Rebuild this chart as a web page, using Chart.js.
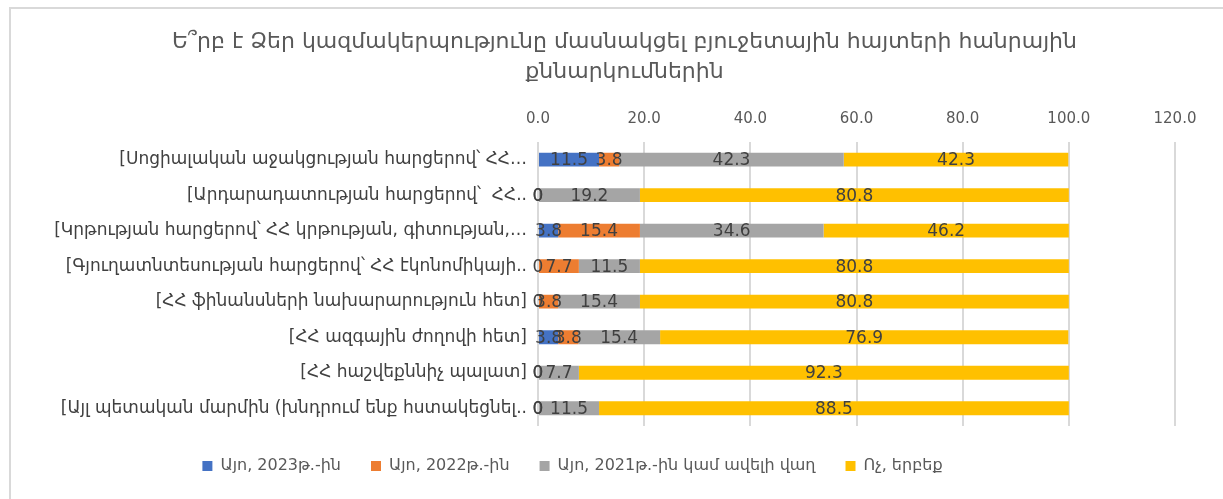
<!DOCTYPE html>
<html lang="hy">
<head>
<meta charset="UTF-8">
<title>Chart</title>
<script src="https://cdn.jsdelivr.net/npm/chart.js"></script>
<style>
  html, body { margin: 0; padding: 0; background: #fff; }
  #wrap { width: 1223px; height: 499px; }
</style>
</head>
<body>
<div id="wrap"><canvas id="myChart" width="1223" height="499"></canvas></div>

<script>
    // categories (labels are truncated in the original too)
    const categories = [
        '[Սոցիալական աջակցության հարցերով՝ ՀՀ…',
        '[Արդարադատության հարցերով՝  ՀՀ..',
        '[Կրթության հարցերով՝ ՀՀ կրթության, գիտության,…',
        '[Գյուղատնտեսության հարցերով՝ ՀՀ էկոնոմիկայի..',
        '[ՀՀ ֆինանսների նախարարություն հետ]',
        '[ՀՀ ազգային ժողովի հետ]',
        '[ՀՀ հաշվեքննիչ պալատ]',
        '[Այլ պետական մարմին (խնդրում ենք հստակեցնել..'
    ]

    const seriesNames = ['Այո, 2023թ.-ին', 'Այո, 2022թ.-ին', 'Այո, 2021թ.-ին կամ ավելի վաղ', 'Ոչ, երբեք']

    const yes2023 = [11.5, 0, 3.8, 0, 0, 3.8, 0, 0]
    const yes2022 = [3.8, 0, 15.4, 7.7, 3.8, 3.8, 0, 0]
    const yes2021 = [42.3, 19.2, 34.6, 11.5, 15.4, 15.4, 7.7, 11.5]
    const never = [42.3, 80.8, 46.2, 80.8, 80.8, 76.9, 92.3, 88.5]

    const xTicks = [0, 20, 40, 60, 80, 100, 120]

    const titleLines = [
        'Ե՞րբ է Ձեր կազմակերպությունը մասնակցել բյուջետային հայտերի հանրային',
        'քննարկումներին'
    ]

    const colors = ['#4472C4', '#ED7D31', '#A5A5A5', '#FFC000']
    const FONT = "'DejaVu Sans', 'Noto Sans', sans-serif"

    // frame around the chart + white background
    const framePlugin = {
        id: 'frame',
        beforeDraw(chart) {
            const c = chart.ctx
            c.save()
            c.fillStyle = '#fff'
            c.fillRect(0, 0, chart.width, chart.height)
            c.strokeStyle = '#d9d9d9'
            c.lineWidth = 2
            c.strokeRect(10, 8, chart.width - 9, chart.height)
            c.restore()
        }
    }

    // value labels centered inside each segment
    const valueLabels = {
        id: 'valueLabels',
        afterDatasetsDraw(chart) {
            const c = chart.ctx
            c.save()
            c.font = '17px ' + FONT
            c.fillStyle = '#404040'
            c.textAlign = 'center'
            c.textBaseline = 'middle'
            chart.data.datasets.forEach((ds, i) => {
                chart.getDatasetMeta(i).data.forEach((bar, j) => {
                    const v = ds.data[j]
                    const txt = v === 0 ? '0' : v.toFixed(1)
                    c.fillText(txt, (bar.x + bar.base) / 2, bar.y + 1)
                })
            })
            c.restore()
        }
    }

    // nudge title / legend like in the original
    const shiftPlugin = {
        id: 'shift',
        afterLayout(chart) {
            chart.titleBlock.left += 32
            chart.titleBlock.right += 32
            chart.legend.left -= 20
            chart.legend.right -= 20
            chart.legend.top += 2
            chart.legend.bottom += 2
        }
    }

    const data = {
        labels: categories,
        datasets: [yes2023, yes2022, yes2021, never].map((d, i) => ({
            label: seriesNames[i],
            data: d,
            backgroundColor: colors[i],
            barPercentage: 0.39,
            categoryPercentage: 1
        }))
    }

    const config = {
        type: 'bar',
        data: data,
        options: {
            indexAxis: 'y',
            responsive: false,
            animation: false,
            layout: { padding: { left: 10, right: 48, top: 0, bottom: 17 } },
            scales: {
                x: {
                    position: 'top',
                    stacked: true,
                    min: 0,
                    max: 120,
                    afterBuildTicks: s => { s.ticks = xTicks.map(v => ({ value: v })) },
                    afterFit: s => { s.height = 55 },
                    ticks: {
                        padding: 14,
                        color: '#595959',
                        font: { family: FONT, size: 15 },
                        callback: v => v.toFixed(1)
                    },
                    grid: { color: '#d9d9d9', lineWidth: 2, drawTicks: false },
                    border: { display: false }
                },
                y: {
                    stacked: true,
                    afterFit: s => { s.width = 528 },
                    ticks: {
                        padding: 11,
                        color: '#404040',
                        font: { family: FONT, size: 17 }
                    },
                    grid: { display: false, drawTicks: false },
                    border: { display: false }
                }
            },
            plugins: {
                title: {
                    display: true,
                    text: titleLines,
                    color: '#595959',
                    font: { family: FONT, size: 22, weight: 'normal', lineHeight: 1.36 },
                    padding: { top: 27, bottom: 0 }
                },
                legend: {
                    position: 'bottom',
                    labels: {
                        boxWidth: 10,
                        boxHeight: 10,
                        padding: 30,
                        color: '#595959',
                        font: { family: FONT, size: 16 }
                    }
                },
                tooltip: { enabled: false }
            }
        },
        plugins: [framePlugin, valueLabels, shiftPlugin]
    }

    window.myChart = new Chart(document.getElementById('myChart'), config)
</script>
</body>
</html>
